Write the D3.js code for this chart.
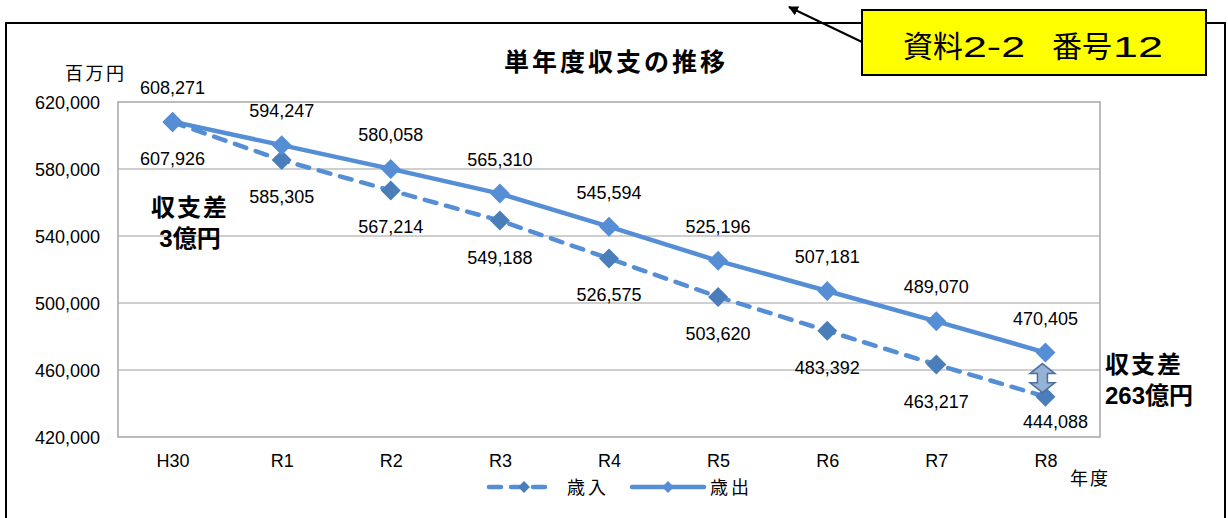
<!DOCTYPE html>
<html>
<head>
<meta charset="utf-8">
<script src="https://cdn.jsdelivr.net/npm/d3@7"></script>
<style>
  body { margin: 0; background: #fff; }
  svg text { font-family: "Liberation Sans", "Noto Sans CJK JP", sans-serif; fill: #000; }
</style>
</head>
<body>
<div class="vis-linechart"></div>
<script>
// 年度
const years = ["H30", "R1", "R2", "R3", "R4", "R5", "R6", "R7", "R8"];
// 歳入 (百万円)
const revenue = [607926, 585305, 567214, 549188, 526575, 503620, 483392, 463217, 444088];
// 歳出 (百万円)
const expenditure = [608271, 594247, 580058, 565310, 545594, 525196, 507181, 489070, 470405];
const yTicks = [420000, 460000, 500000, 540000, 580000, 620000];
const seriesNames = ["歳入", "歳出"];

const W = 1228, H = 518;
const plot = { left: 118, right: 1100, top: 102, bottom: 437 };
const lineColor = "#558ED5";
const darkMarker = "#4A7EBB";
const fmt = d3.format(",");
const numSize = 18;

const svg = d3.select(".vis-linechart").append("svg")
  .attr("width", W).attr("height", H);

// outer frame
svg.append("rect")
  .attr("x", 6).attr("y", 23).attr("width", 1219).attr("height", 520)
  .attr("fill", "none").attr("stroke", "#000").attr("stroke-width", 2);

const x = d3.scalePoint().domain(years).range([plot.left, plot.right]).padding(0.5);
const y = d3.scaleLinear().domain([420000, 620000]).range([plot.bottom, plot.top]);

// gridlines
svg.append("g").selectAll("line")
  .data(yTicks.slice(1, -1))
  .enter().append("line")
  .attr("x1", plot.left).attr("x2", plot.right)
  .attr("y1", d => y(d)).attr("y2", d => y(d))
  .attr("stroke", "#BFBFBF").attr("stroke-width", 1.5);

// plot border
svg.append("rect")
  .attr("x", plot.left).attr("y", plot.top)
  .attr("width", plot.right - plot.left).attr("height", plot.bottom - plot.top)
  .attr("fill", "none").attr("stroke", "#A6A6A6").attr("stroke-width", 1.5);

// y axis labels
const yAxis = svg.append("g")
  .attr("transform", "translate(" + (plot.left - 18) + ",0)")
  .call(d3.axisLeft(y).tickValues(yTicks).tickFormat(fmt).tickSize(0).tickPadding(0));
yAxis.select(".domain").remove();
yAxis.selectAll("text").attr("font-size", numSize).attr("dy", "0.36em")
  .style("font-family", "Liberation Sans");

// x axis labels
const xAxis = svg.append("g")
  .attr("transform", "translate(0," + plot.bottom + ")")
  .call(d3.axisBottom(x).tickSize(0).tickPadding(0));
xAxis.select(".domain").remove();
xAxis.selectAll("text").attr("font-size", numSize).attr("dy", 0).attr("y", 30)
  .style("font-family", "Liberation Sans");

// title and unit labels
svg.append("text").attr("x", 616).attr("y", 71).attr("text-anchor", "middle")
  .attr("font-size", 25).attr("font-weight", "bold").attr("letter-spacing", 3)
  .text("単年度収支の推移");
svg.append("text").attr("x", 65).attr("y", 80)
  .attr("font-size", 18).attr("letter-spacing", 2.5).text("百万円");
svg.append("text").attr("x", 1070).attr("y", 485)
  .attr("font-size", 18).attr("letter-spacing", 2).text("年度");

// lines
const line = d3.line().x(d => x(d.year)).y(d => y(d.value));
const revData = years.map((yr, i) => ({ year: yr, value: revenue[i] }));
const expData = years.map((yr, i) => ({ year: yr, value: expenditure[i] }));

svg.append("path").datum(revData)
  .attr("d", line).attr("fill", "none")
  .attr("stroke", lineColor).attr("stroke-width", 4.5)
  .attr("stroke-dasharray", "12,10").attr("stroke-linecap", "round");

svg.append("path").datum(expData)
  .attr("d", line).attr("fill", "none")
  .attr("stroke", lineColor).attr("stroke-width", 4.5);

// diamond markers (rotated squares)
const diamond = d3.symbol().type(d3.symbolSquare).size(200);

svg.append("g").selectAll("path")
  .data(revData).enter().append("path")
  .attr("d", diamond)
  .attr("transform", d => "translate(" + x(d.year) + "," + y(d.value) + ") rotate(45)")
  .attr("fill", darkMarker);

svg.append("g").selectAll("path")
  .data(expData).enter().append("path")
  .attr("d", diamond)
  .attr("transform", d => "translate(" + x(d.year) + "," + y(d.value) + ") rotate(45)")
  .attr("fill", lineColor);

// data labels
svg.append("g").selectAll("text")
  .data(expData).enter().append("text")
  .attr("x", d => x(d.year)).attr("y", d => y(d.value) - 28)
  .attr("text-anchor", "middle").attr("font-size", numSize)
  .text(d => fmt(d.value));

svg.append("g").selectAll("text")
  .data(revData).enter().append("text")
  .attr("x", (d, i) => x(d.year) + (i === revData.length - 1 ? 10 : 0))
  .attr("y", (d, i) => y(d.value) + (i === revData.length - 1 ? 31 : 43))
  .attr("text-anchor", "middle").attr("font-size", numSize)
  .text(d => fmt(d.value));

// double arrow between last points
const ax = x(years[years.length - 1]) - 3;
const aTop = y(expenditure[8]) + 11, aBot = y(revenue[8]) - 4;
const hw = 12.5, sw = 5, hl = 10;
svg.append("path")
  .attr("d", [
    "M", ax, aTop,
    "L", ax + hw, aTop + hl, "L", ax + sw, aTop + hl,
    "L", ax + sw, aBot - hl, "L", ax + hw, aBot - hl,
    "L", ax, aBot,
    "L", ax - hw, aBot - hl, "L", ax - sw, aBot - hl,
    "L", ax - sw, aTop + hl, "L", ax - hw, aTop + hl, "Z"
  ].join(" "))
  .attr("fill", "#95B3D7").attr("stroke", "#4F6E9E").attr("stroke-width", 1.5);

// 収支差 annotations
const note = svg.append("g").attr("font-weight", "bold");
note.append("text").attr("x", 190).attr("y", 216).attr("text-anchor", "middle")
  .attr("font-size", 24).attr("letter-spacing", 2).text("収支差");
note.append("text").attr("x", 190).attr("y", 247).attr("text-anchor", "middle")
  .attr("font-size", 24).text("3億円");
note.append("text").attr("x", 1105).attr("y", 373)
  .attr("font-size", 24).attr("letter-spacing", 2).text("収支差");
note.append("text").attr("x", 1105).attr("y", 404)
  .attr("font-size", 24).text("263億円");

// legend
const legend = svg.append("g").attr("transform", "translate(489,487)");
const legDiamond = d3.symbol().type(d3.symbolSquare).size(70);
legend.append("line").attr("x1", 0).attr("x2", 66)
  .attr("stroke", lineColor).attr("stroke-width", 4.5)
  .attr("stroke-dasharray", "12,10").attr("stroke-linecap", "round");
legend.append("path").attr("d", legDiamond)
  .attr("transform", "translate(35,0) rotate(45)").attr("fill", darkMarker);
legend.append("text").attr("x", 78).attr("y", 7)
  .attr("font-size", 18).attr("letter-spacing", 3).text(seriesNames[0]);
legend.append("line").attr("x1", 143).attr("x2", 215)
  .attr("stroke", lineColor).attr("stroke-width", 4.5).attr("stroke-linecap", "round");
legend.append("path").attr("d", legDiamond)
  .attr("transform", "translate(179,0) rotate(45)").attr("fill", lineColor);
legend.append("text").attr("x", 221).attr("y", 7)
  .attr("font-size", 18).attr("letter-spacing", 3).text(seriesNames[1]);

// pointer arrow and yellow label box
svg.append("defs").append("marker")
  .attr("id", "head").attr("viewBox", "0 0 10 10")
  .attr("refX", 9).attr("refY", 5)
  .attr("markerWidth", 10).attr("markerHeight", 10)
  .attr("markerUnits", "userSpaceOnUse")
  .attr("orient", "auto")
  .append("path").attr("d", "M0,0 L10,5 L0,10 Z").attr("fill", "#000");
svg.append("line")
  .attr("x1", 862).attr("y1", 42).attr("x2", 789).attr("y2", 7)
  .attr("stroke", "#000").attr("stroke-width", 2)
  .attr("marker-end", "url(#head)");

svg.append("rect")
  .attr("x", 862).attr("y", 10).attr("width", 344).attr("height", 65)
  .attr("fill", "#FFFF00").attr("stroke", "#000").attr("stroke-width", 2);
const box = svg.append("text").attr("y", 57).attr("font-size", 30);
box.append("tspan").attr("x", 903).text("資料");
box.append("tspan").attr("x", 963).attr("textLength", 62)
  .attr("lengthAdjust", "spacingAndGlyphs").text("2-2");
box.append("tspan").attr("x", 1052).text("　番号").attr("dx", -30);
box.append("tspan").attr("x", 1113).attr("textLength", 50)
  .attr("lengthAdjust", "spacingAndGlyphs").text("12");
</script>
</body>
</html>
